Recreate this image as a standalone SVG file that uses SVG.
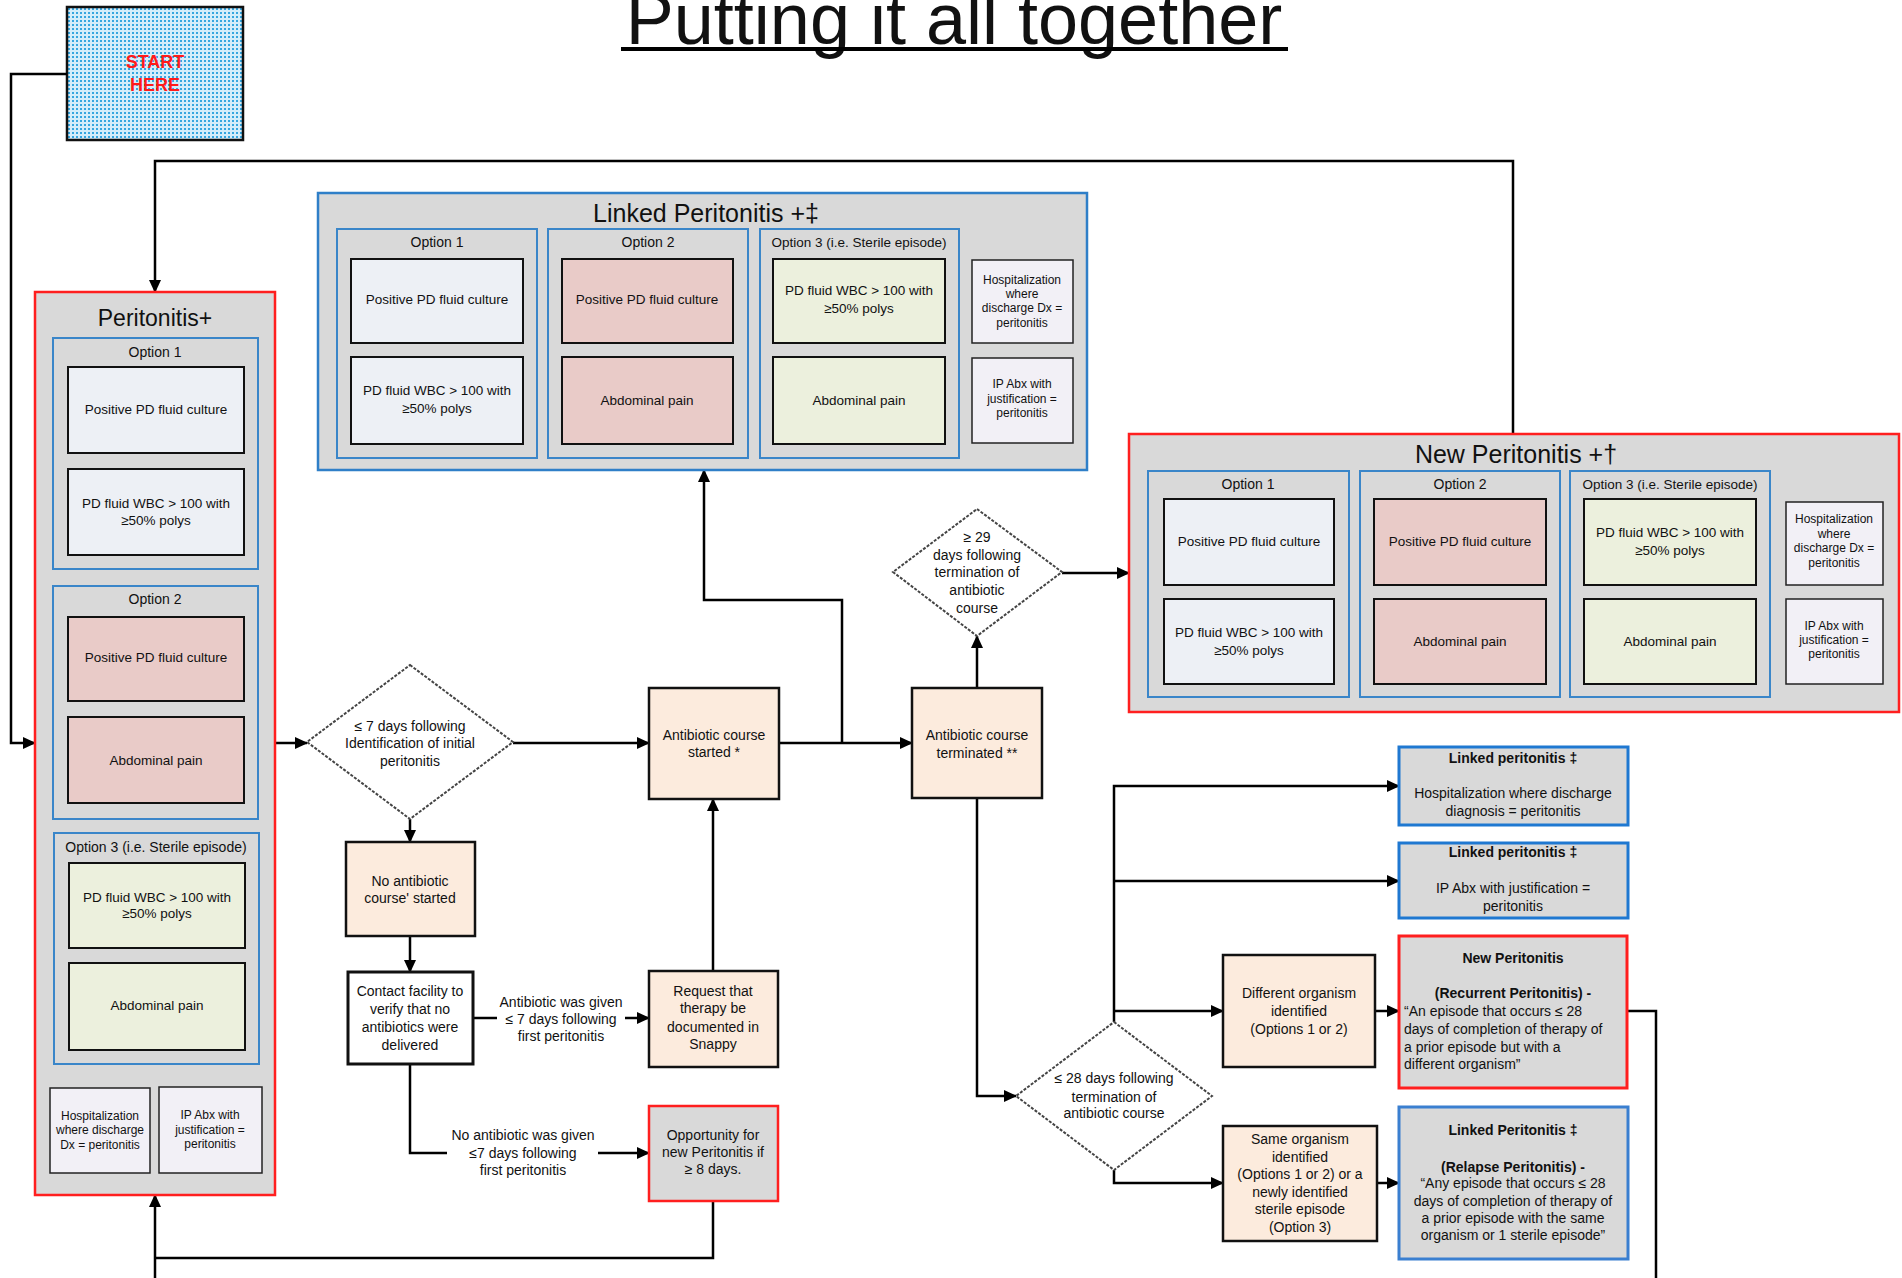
<svg xmlns="http://www.w3.org/2000/svg" width="1902" height="1278" viewBox="0 0 1902 1278">
<defs>
<style>
text{font-family:"Liberation Sans",Arial,sans-serif;fill:#111;text-anchor:middle;}
.t14{font-size:14px;}
.t13{font-size:13.5px;}
.t12{font-size:12px;}
.b{font-weight:bold;}
.lft{text-anchor:start;}
.panel{fill:#d9d9d9;}
.redb{stroke:#ff1f1f;stroke-width:2.5;}
.blueb{stroke:#2f7fc8;stroke-width:2.5;}
.opt{fill:none;stroke:#3a86c9;stroke-width:2;}
.c1{fill:#edf0f5;stroke:#111;stroke-width:2;}
.c2{fill:#e9cbc8;stroke:#111;stroke-width:2;}
.c3{fill:#ecf0dd;stroke:#111;stroke-width:2;}
.sm{fill:#f2f0f6;stroke:#222;stroke-width:1.5;}
.peach{fill:#fcebdd;stroke:#111;stroke-width:2.5;}
.dia{fill:#fff;stroke:#444;stroke-width:2;stroke-dasharray:3 1.5;}
.conn path{fill:none;stroke:#000;stroke-width:2.5;}
</style>
<pattern id="dots" width="4" height="4" patternUnits="userSpaceOnUse"><rect width="4" height="4" fill="#d4edfa"/><rect width="2" height="2" fill="#36a6df"/></pattern>
<marker id="ar" markerUnits="userSpaceOnUse" markerWidth="13" markerHeight="12" refX="12" refY="6" orient="auto"><path d="M0,0 L13,6 L0,12 z" fill="#000"/></marker>
</defs>
<rect width="1902" height="1278" fill="#fff"/>

<g id="title">
<text x="954" y="44" style="font-size:72px">Putting it all together</text>
<line x1="621" y1="49" x2="1288" y2="49" stroke="#000" stroke-width="4"/>
</g>

<g id="start">
<rect x="67" y="7" width="176" height="133" fill="url(#dots)" stroke="#111" stroke-width="2.5"/>
<text x="155" y="68" class="b" style="font-size:18px;fill:#ff1a1a">START</text>
<text x="155" y="91" class="b" style="font-size:18px;fill:#ff1a1a">HERE</text>
</g>

<g class="conn" id="connectors">
<path d="M67,74 H11 V743 H35" marker-end="url(#ar)"/>
<path d="M1513,434 V161 H155 V292" marker-end="url(#ar)"/>
<path d="M275,743 H307" marker-end="url(#ar)"/>
<path d="M513,743 H649" marker-end="url(#ar)"/>
<path d="M410,819 V842" marker-end="url(#ar)"/>
<path d="M410,936 V972" marker-end="url(#ar)"/>
<path d="M473,1018 H497"/>
<path d="M625,1018 H649" marker-end="url(#ar)"/>
<path d="M410,1064 V1153 H447"/>
<path d="M598,1153 H649" marker-end="url(#ar)"/>
<path d="M713,971 V799" marker-end="url(#ar)"/>
<path d="M713,1201 V1258 H155"/>
<path d="M155,1278 V1195" marker-end="url(#ar)"/>
<path d="M779,743 H912" marker-end="url(#ar)"/>
<path d="M842,743 V600 H704 V470" marker-end="url(#ar)"/>
<path d="M977,688 V636" marker-end="url(#ar)"/>
<path d="M1062,573 H1129" marker-end="url(#ar)"/>
<path d="M977,798 V1096 H1016" marker-end="url(#ar)"/>
<path d="M1114,1022 V786 H1399" marker-end="url(#ar)"/>
<path d="M1114,881 H1399" marker-end="url(#ar)"/>
<path d="M1114,1011 H1223" marker-end="url(#ar)"/>
<path d="M1375,1011 H1399" marker-end="url(#ar)"/>
<path d="M1114,1170 V1183 H1223" marker-end="url(#ar)"/>
<path d="M1377,1183 H1399" marker-end="url(#ar)"/>
<path d="M1627,1011 H1656 V1278"/>
</g>

<g id="peritonitis">
<rect x="35" y="292" width="240" height="903" class="panel redb"/>
<text x="155" y="326" style="font-size:23px">Peritonitis+</text>
<rect x="53" y="338" width="205" height="231" class="opt"/>
<text x="155" y="357" class="t14">Option 1</text>
<rect x="68" y="367" width="176" height="86" class="c1"/>
<text x="156" y="414" class="t13">Positive PD fluid culture</text>
<rect x="68" y="469" width="176" height="86" class="c1"/>
<text x="156" y="508" class="t13">PD fluid WBC &gt; 100 with</text>
<text x="156" y="525" class="t13">≥50% polys</text>
<rect x="53" y="586" width="205" height="233" class="opt"/>
<text x="155" y="604" class="t14">Option 2</text>
<rect x="68" y="617" width="176" height="84" class="c2"/>
<text x="156" y="662" class="t13">Positive PD fluid culture</text>
<rect x="68" y="717" width="176" height="86" class="c2"/>
<text x="156" y="765" class="t13">Abdominal pain</text>
<rect x="54" y="833" width="205" height="231" class="opt"/>
<text x="156" y="852" class="t14">Option 3 (i.e. Sterile episode)</text>
<rect x="69" y="863" width="176" height="85" class="c3"/>
<text x="157" y="902" class="t13">PD fluid WBC &gt; 100 with</text>
<text x="157" y="918" class="t13">≥50% polys</text>
<rect x="69" y="963" width="176" height="87" class="c3"/>
<text x="157" y="1010" class="t13">Abdominal pain</text>
<rect x="50" y="1088" width="100" height="85" class="sm"/>
<text x="100" y="1120" class="t12">Hospitalization</text>
<text x="100" y="1134" class="t12">where discharge</text>
<text x="100" y="1149" class="t12">Dx = peritonitis</text>
<rect x="159" y="1087" width="103" height="86" class="sm"/>
<text x="210" y="1119" class="t12">IP Abx with</text>
<text x="210" y="1134" class="t12">justification =</text>
<text x="210" y="1148" class="t12">peritonitis</text>
</g>

<g id="linked-peritonitis">
<rect x="318" y="193" width="769" height="277" class="panel blueb"/>
<text x="706" y="222" style="font-size:25px">Linked Peritonitis +‡</text>
<rect x="337" y="229" width="200" height="229" class="opt"/>
<text x="437" y="247" class="t14">Option 1</text>
<rect x="351" y="259" width="172" height="84" class="c1"/>
<text x="437" y="304" class="t13">Positive PD fluid culture</text>
<rect x="351" y="357" width="172" height="87" class="c1"/>
<text x="437" y="395" class="t13">PD fluid WBC &gt; 100 with</text>
<text x="437" y="413" class="t13">≥50% polys</text>
<rect x="548" y="229" width="200" height="229" class="opt"/>
<text x="648" y="247" class="t14">Option 2</text>
<rect x="562" y="259" width="171" height="84" class="c2"/>
<text x="647" y="304" class="t13">Positive PD fluid culture</text>
<rect x="562" y="357" width="171" height="87" class="c2"/>
<text x="647" y="405" class="t13">Abdominal pain</text>
<rect x="760" y="229" width="199" height="229" class="opt"/>
<text x="859" y="247" class="t13">Option 3 (i.e. Sterile episode)</text>
<rect x="773" y="259" width="172" height="84" class="c3"/>
<text x="859" y="295" class="t13">PD fluid WBC &gt; 100 with</text>
<text x="859" y="313" class="t13">≥50% polys</text>
<rect x="773" y="357" width="172" height="87" class="c3"/>
<text x="859" y="405" class="t13">Abdominal pain</text>
<rect x="972" y="260" width="101" height="83" class="sm"/>
<text x="1022" y="284" class="t12">Hospitalization</text>
<text x="1022" y="298" class="t12">where</text>
<text x="1022" y="312" class="t12">discharge Dx =</text>
<text x="1022" y="327" class="t12">peritonitis</text>
<rect x="972" y="358" width="101" height="85" class="sm"/>
<text x="1022" y="388" class="t12">IP Abx with</text>
<text x="1022" y="403" class="t12">justification =</text>
<text x="1022" y="417" class="t12">peritonitis</text>
</g>

<g id="new-peritonitis">
<rect x="1129" y="434" width="770" height="278" class="panel redb"/>
<text x="1516" y="463" style="font-size:25px">New Peritonitis +†</text>
<rect x="1148" y="471" width="201" height="226" class="opt"/>
<text x="1248" y="489" class="t14">Option 1</text>
<rect x="1164" y="499" width="170" height="86" class="c1"/>
<text x="1249" y="546" class="t13">Positive PD fluid culture</text>
<rect x="1164" y="599" width="170" height="85" class="c1"/>
<text x="1249" y="637" class="t13">PD fluid WBC &gt; 100 with</text>
<text x="1249" y="655" class="t13">≥50% polys</text>
<rect x="1360" y="471" width="200" height="226" class="opt"/>
<text x="1460" y="489" class="t14">Option 2</text>
<rect x="1374" y="499" width="172" height="86" class="c2"/>
<text x="1460" y="546" class="t13">Positive PD fluid culture</text>
<rect x="1374" y="599" width="172" height="85" class="c2"/>
<text x="1460" y="646" class="t13">Abdominal pain</text>
<rect x="1570" y="471" width="200" height="226" class="opt"/>
<text x="1670" y="489" class="t13">Option 3 (i.e. Sterile episode)</text>
<rect x="1584" y="499" width="172" height="86" class="c3"/>
<text x="1670" y="537" class="t13">PD fluid WBC &gt; 100 with</text>
<text x="1670" y="555" class="t13">≥50% polys</text>
<rect x="1584" y="599" width="172" height="85" class="c3"/>
<text x="1670" y="646" class="t13">Abdominal pain</text>
<rect x="1786" y="502" width="97" height="83" class="sm"/>
<text x="1834" y="523" class="t12">Hospitalization</text>
<text x="1834" y="538" class="t12">where</text>
<text x="1834" y="552" class="t12">discharge Dx =</text>
<text x="1834" y="567" class="t12">peritonitis</text>
<rect x="1786" y="599" width="97" height="85" class="sm"/>
<text x="1834" y="630" class="t12">IP Abx with</text>
<text x="1834" y="644" class="t12">justification =</text>
<text x="1834" y="658" class="t12">peritonitis</text>
</g>

<g id="decision-7days">
<polygon points="410,665 513,742 410,819 307,742" class="dia"/>
<text x="410" y="731" class="t14">≤ 7 days following</text>
<text x="410" y="748" class="t14">Identification of initial</text>
<text x="410" y="766" class="t14">peritonitis</text>
</g>

<g id="no-antibiotic">
<rect x="346" y="842" width="129" height="94" class="peach"/>
<text x="410" y="886" class="t14">No antibiotic</text>
<text x="410" y="903" class="t14">course' started</text>
</g>

<g id="contact-facility">
<rect x="348" y="972" width="125" height="92" fill="#fff" stroke="#111" stroke-width="3"/>
<text x="410" y="996" class="t14">Contact facility to</text>
<text x="410" y="1014" class="t14">verify that no</text>
<text x="410" y="1032" class="t14">antibiotics were</text>
<text x="410" y="1050" class="t14">delivered</text>
</g>

<g id="label-given">
<text x="561" y="1007" class="t14">Antibiotic was given</text>
<text x="561" y="1024" class="t14">≤ 7 days following</text>
<text x="561" y="1041" class="t14">first peritonitis</text>
</g>

<g id="label-not-given">
<text x="523" y="1140" class="t14">No antibiotic was given</text>
<text x="523" y="1158" class="t14">≤7 days following</text>
<text x="523" y="1175" class="t14">first peritonitis</text>
</g>

<g id="antibiotic-started">
<rect x="649" y="688" width="130" height="111" class="peach"/>
<text x="714" y="740" class="t14">Antibiotic course</text>
<text x="714" y="757" class="t14">started *</text>
</g>

<g id="request-therapy">
<rect x="649" y="971" width="129" height="96" class="peach"/>
<text x="713" y="996" class="t14">Request that</text>
<text x="713" y="1013" class="t14">therapy be</text>
<text x="713" y="1032" class="t14">documented in</text>
<text x="713" y="1049" class="t14">Snappy</text>
</g>

<g id="opportunity">
<rect x="649" y="1106" width="129" height="95" class="panel redb"/>
<text x="713" y="1140" class="t14">Opportunity for</text>
<text x="713" y="1157" class="t14">new Peritonitis if</text>
<text x="713" y="1174" class="t14">≥ 8 days.</text>
</g>

<g id="antibiotic-terminated">
<rect x="912" y="688" width="130" height="110" class="peach"/>
<text x="977" y="740" class="t14">Antibiotic course</text>
<text x="977" y="758" class="t14">terminated **</text>
</g>

<g id="decision-29days">
<polygon points="977,509 1062,572 977,636 893,572" class="dia"/>
<text x="977" y="542" class="t14">≥ 29</text>
<text x="977" y="560" class="t14">days following</text>
<text x="977" y="577" class="t14">termination of</text>
<text x="977" y="595" class="t14">antibiotic</text>
<text x="977" y="613" class="t14">course</text>
</g>

<g id="decision-28days">
<polygon points="1114,1022 1212,1096 1114,1170 1016,1096" class="dia"/>
<text x="1114" y="1083" class="t14">≤ 28 days following</text>
<text x="1114" y="1102" class="t14">termination of</text>
<text x="1114" y="1118" class="t14">antibiotic course</text>
</g>

<g id="different-organism">
<rect x="1223" y="955" width="152" height="112" class="peach"/>
<text x="1299" y="998" class="t14">Different organism</text>
<text x="1299" y="1016" class="t14">identified</text>
<text x="1299" y="1034" class="t14">(Options 1 or 2)</text>
</g>

<g id="same-organism">
<rect x="1223" y="1126" width="154" height="115" class="peach"/>
<text x="1300" y="1144" class="t14">Same organism</text>
<text x="1300" y="1162" class="t14">identified</text>
<text x="1300" y="1179" class="t14">(Options 1 or 2) or a</text>
<text x="1300" y="1197" class="t14">newly identified</text>
<text x="1300" y="1214" class="t14">sterile episode</text>
<text x="1300" y="1232" class="t14">(Option 3)</text>
</g>

<g id="linked-hospitalization">
<rect x="1399" y="747" width="229" height="78" class="panel" stroke="#1f78d1" stroke-width="3"/>
<text x="1513" y="763" class="t14 b">Linked peritonitis ‡</text>
<text x="1513" y="798" class="t14">Hospitalization where discharge</text>
<text x="1513" y="816" class="t14">diagnosis = peritonitis</text>
</g>

<g id="linked-ipabx">
<rect x="1399" y="843" width="229" height="75" class="panel" stroke="#1f78d1" stroke-width="3"/>
<text x="1513" y="857" class="t14 b">Linked peritonitis ‡</text>
<text x="1513" y="893" class="t14">IP Abx with justification =</text>
<text x="1513" y="911" class="t14">peritonitis</text>
</g>

<g id="recurrent">
<rect x="1399" y="936" width="228" height="152" class="panel" stroke="#ff1f1f" stroke-width="3"/>
<text x="1513" y="963" class="t14 b">New Peritonitis</text>
<text x="1513" y="998" class="t14 b">(Recurrent Peritonitis) -</text>
<text x="1404" y="1016" class="t14 lft">“An episode that occurs ≤ 28</text>
<text x="1404" y="1034" class="t14 lft">days of completion of therapy of</text>
<text x="1404" y="1052" class="t14 lft">a prior episode but with a</text>
<text x="1404" y="1069" class="t14 lft">different organism”</text>
</g>

<g id="relapse">
<rect x="1399" y="1107" width="229" height="152" class="panel" stroke="#3a7fd0" stroke-width="3"/>
<text x="1513" y="1135" class="t14 b">Linked Peritonitis ‡</text>
<text x="1513" y="1172" class="t14 b">(Relapse Peritonitis) -</text>
<text x="1513" y="1188" class="t14">“Any episode that occurs ≤ 28</text>
<text x="1513" y="1206" class="t14">days of completion of therapy of</text>
<text x="1513" y="1223" class="t14">a prior episode with the same</text>
<text x="1513" y="1240" class="t14">organism or 1 sterile episode”</text>
</g>
</svg>
